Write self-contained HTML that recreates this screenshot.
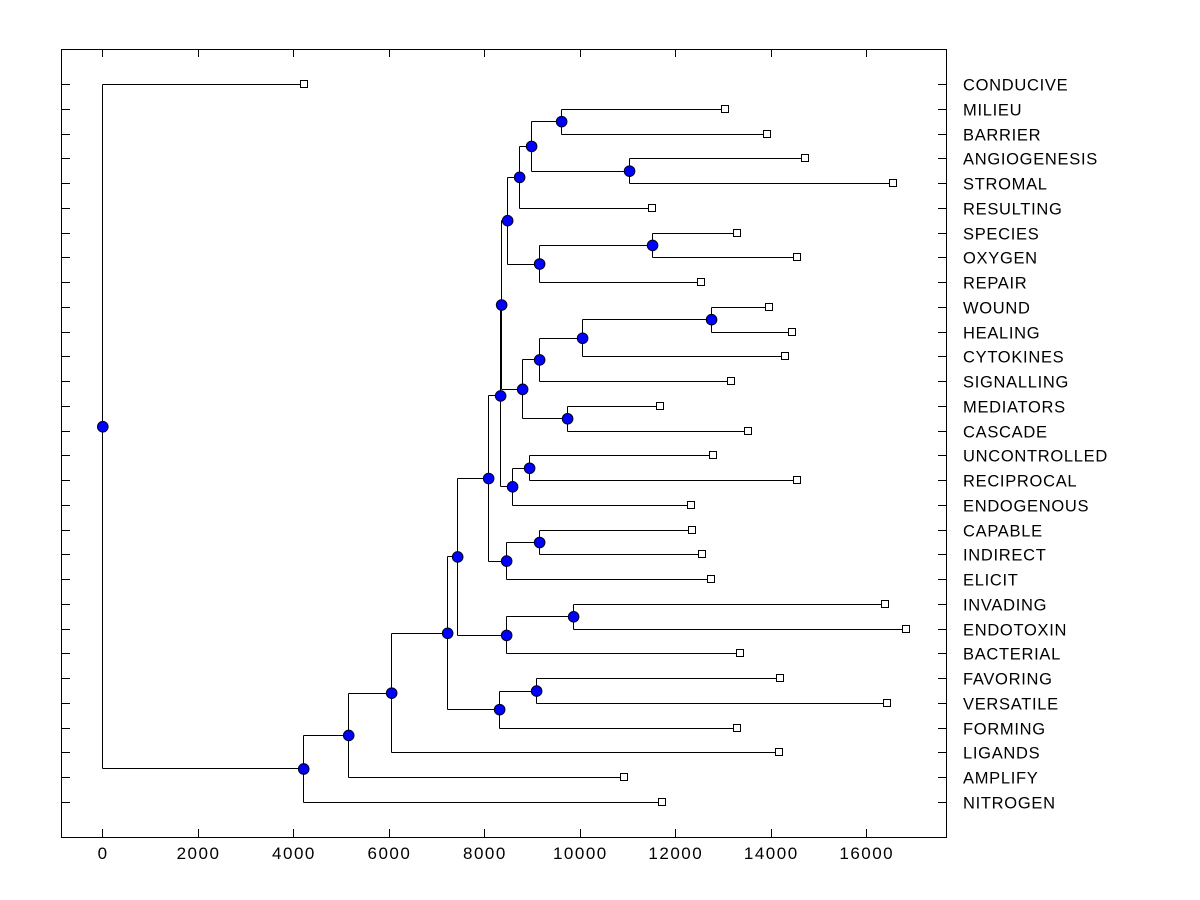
<!DOCTYPE html>
<html><head><meta charset="utf-8"><style>
html,body{margin:0;padding:0;background:#fff;}
svg{display:block;font-family:"Liberation Sans",Arial,sans-serif;}
</style></head><body>
<svg id="chart" width="1200" height="900"></svg>
<script>
const leafNames=["CONDUCIVE","MILIEU","BARRIER","ANGIOGENESIS","STROMAL","RESULTING","SPECIES","OXYGEN","REPAIR","WOUND","HEALING","CYTOKINES","SIGNALLING","MEDIATORS","CASCADE","UNCONTROLLED","RECIPROCAL","ENDOGENOUS","CAPABLE","INDIRECT","ELICIT","INVADING","ENDOTOXIN","BACTERIAL","FAVORING","VERSATILE","FORMING","LIGANDS","AMPLIFY","NITROGEN"];
const leafHeights=[4230,13047,13927,14723,16565,11518,13298,14555,12545,13969,14450,14304,13173,11686,13529,12796,14555,12335,12356,12565,12754,16398,16838,13361,14199,16440,13298,14178,10932,11728];
const mergeLeft=[1,3,30,32,6,34,33,9,37,38,13,39,36,15,43,42,18,46,45,21,49,48,24,52,51,54,55,56,0];
const mergeRight=[2,4,31,5,7,8,35,10,11,12,14,40,41,16,17,44,19,20,47,22,23,50,25,26,53,27,28,29,57];
const mergeHeights=[9613,11036,8984,8733,11518,9152,8482,12754,10052,9152,9738,8796,8356,8942,8586,8335,9152,8461,8084,9864,8461,7435,9089,8314,7225,6052,5152,4209,0];
const xTicks=[0,2000,4000,6000,8000,10000,12000,14000,16000];

const NS="http://www.w3.org/2000/svg";
const svg=document.getElementById('chart');
const L=61,R=946,T=49,B=837;
const X=v=>102.3+v*(866-102.3)/16000;
const Yrow=i=>84+i*(802-84)/29;
function mk(tag,attrs,parent){const e=document.createElementNS(NS,tag);for(const k in attrs)e.setAttribute(k,attrs[k]);(parent||svg).appendChild(e);return e;}

const frame=mk('rect',{x:L+0.5,y:T+0.5,width:R-L,height:B-T,fill:'none',stroke:'#000','stroke-width':1});



xTicks.forEach(t=>{
  const x=Math.round(X(t))+0.5;
  const a=mk('line',{x1:x,x2:x,y1:B,y2:B-8,stroke:'#000'});
  
  
  const b=mk('line',{x1:x,x2:x,y1:T,y2:T+8,stroke:'#000'});
  
  
  const tx=mk('text',{x:X(t)+0.75,y:859,'text-anchor':'middle','font-size':17,'letter-spacing':1.5});
  tx.textContent=t;
  
  
});

const nodeY=[],nodeH=[];
leafNames.forEach((n,i)=>{nodeY[i]=Yrow(i);nodeH[i]=leafHeights[i];});
mergeHeights.forEach((h,k)=>{const id=leafNames.length+k;nodeY[id]=(nodeY[mergeLeft[k]]+nodeY[mergeRight[k]])/2;nodeH[id]=h;});

leafNames.forEach((n,i)=>{
  const y=Math.round(Yrow(i))+0.5;
  const a=mk('line',{x1:L,x2:L+9,y1:y,y2:y,stroke:'#000'});
  
  
  const b=mk('line',{x1:R-8,x2:R,y1:y,y2:y,stroke:'#000'});
  
  
  const tx=mk('text',{x:963,y:y+6,'font-size':16.5,'letter-spacing':0.7});
  tx.textContent=n;
  
  
});

const g=mk('g',{stroke:'#000','stroke-width':1,fill:'none'});


mergeHeights.forEach((h,k)=>{
  const x=Math.round(X(h))+0.5;
  [mergeLeft[k],mergeRight[k]].forEach(c=>{
    const y=Math.round(nodeY[c])+0.5;
    const ln=mk('line',{x1:x,x2:X(nodeH[c]),y1:y,y2:y},g);
    
    
  });
  const v=mk('line',{x1:x,x2:x,y1:Math.round(nodeY[mergeLeft[k]])+0.5,y2:Math.round(nodeY[mergeRight[k]])+0.5},g);
  
  
});
leafNames.forEach((n,i)=>{
  const s=mk('rect',{x:Math.round(X(leafHeights[i]))-3.5,y:Math.round(Yrow(i))-3.5,width:7,height:7,fill:'#fff',stroke:'#000'});
  
  
});
mergeHeights.forEach((h,k)=>{
  const id=leafNames.length+k;
  const c=mk('circle',{cx:X(h)+0.5,cy:nodeY[id]+0.5,r:5.3,fill:'#0000ff',stroke:'#000020','stroke-width':1});
  
  
});
</script>
</body></html>
